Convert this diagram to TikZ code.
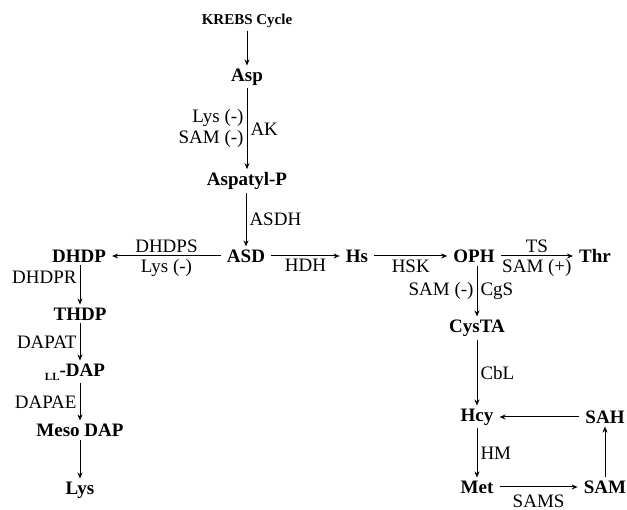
\documentclass[tikz,border=0pt]{standalone}
\usepackage{fontspec}
\setmainfont{Liberation Serif}
\usetikzlibrary{arrows.meta}
\tikzset{
	met/.style={font=\fontsize{19}{21}\selectfont\bfseries, inner ysep=3pt, inner xsep=6pt},
	enz/.style={font=\fontsize{19}{21}\selectfont, inner sep=3pt},
	rxn/.style={-{Stealth[length=6pt, width=5pt]}, line width=1pt}
}

\begin{document}
\begin{tikzpicture}[x=1pt, y=-1pt]
	\useasboundingbox (0,0) rectangle (627,510);
	
	% main trunk
	\node[met, font=\fontsize{15}{17}\selectfont\bfseries] (krebs) at (247,21) {KREBS Cycle};
	\node[met] (asp) at (247,77) {Asp};
	\node[met] (aspp) at (247,181) {Aspatyl-P};
	\node[met] (asd) at (246,256) {ASD};
	
	\draw[rxn] (krebs) -- (asp);
	\draw[rxn] (asp) -- node[enz, left, align=right] {Lys (-)\\SAM (-)} node[enz, right] {AK} (aspp);
	\draw[rxn] (aspp.south -| asd) -- node[enz, right] {ASDH} (asd);
	
	% lysine branch
	\node[met] (dhdp) at (79,256) {DHDP};
	\node[met] (thdp) at (80,314) {THDP};
	\node[met] (lldap) at (75,372) {{\fontsize{11}{11}\selectfont\raisebox{-4pt}{LL}}-DAP};
	\node[met] (meso) at (80,430) {Meso DAP};
	\node[met] (lys) at (80,490) {Lys};
	
	\draw[rxn] (asd) -- node[enz, above] {DHDPS} node[enz, below] {Lys (-)} (dhdp);
	\draw[rxn] (dhdp.south -| thdp) -- node[enz, left, pos=0.3] {DHDPR} (thdp);
	\draw[rxn] (thdp) -- node[enz, left] {DAPAT} (thdp |- lldap.north);
	\draw[rxn] (thdp |- lldap.south) -- node[enz, left] {DAPAE} (meso);
	\draw[rxn] (meso) -- (lys);
	
	% threonine / methionine branch
	\node[met] (hs) at (357,256) {Hs};
	\node[met] (oph) at (474,256) {OPH};
	\node[met] (thr) at (595,256) {Thr};
	\node[met] (cysta) at (477,328) {CysTA};
	\node[met] (hcy) at (477,417) {Hcy};
	\node[met] (sah) at (605,417) {SAH};
	\node[met] (metn) at (477,487) {Met};
	\node[met] (sam) at (605,487) {SAM};
	
	\draw[rxn] (asd) -- node[enz, below] {HDH} (hs);
	\draw[rxn] (hs) -- node[enz, below] {HSK} (oph);
	\draw[rxn] (oph) -- node[enz, above] {TS} node[enz, below] {SAM (+)} (thr);
	\draw[rxn] (oph.south -| cysta) -- node[enz, left] {SAM (-)} node[enz, right] {CgS} (cysta);
	\draw[rxn] (cysta) -- node[enz, right] {CbL} (hcy);
	\draw[rxn] (sah) -- (hcy);
	\draw[rxn] (hcy) -- node[enz, right] {HM} (metn);
	\draw[rxn] (metn) -- node[enz, below, yshift=-4pt] {SAMS} (sam);
	\draw[rxn] (sam) -- (sah);
\end{tikzpicture}
\end{document}
